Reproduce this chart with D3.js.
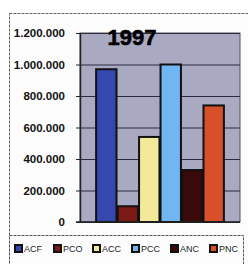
<!DOCTYPE html>
<html>
<head>
<meta charset="utf-8">
<script src="https://cdn.jsdelivr.net/npm/d3@7"></script>
<style>
body { margin: 0; background: #fff; }
svg { display: block; font-family: "Liberation Sans", Arial, sans-serif; }
</style>
</head>
<body>
<div id="content"></div>
<script>
// series names, values (1997) and colours
var categories = ["ACF", "PCO", "ACC", "PCC", "ANC", "PNC"];
var values = [970000, 100000, 540000, 1000000, 330000, 740000];
var colors = ["#3448b0", "#7c1a16", "#f2ea98", "#6fb6f2", "#3a0a0a", "#d8502a"];
var yTicks = [0, 200000, 400000, 600000, 800000, 1000000, 1200000];
var title = "1997";

var W = 248, H = 264;
var plot = {left: 80, right: 240, top: 33, bottom: 222};

var svg = d3.select("#content").append("svg")
	.attr("width", W).attr("height", H);

// outer frame
svg.append("rect")
	.attr("x", 9.5).attr("y", 13.5)
	.attr("width", 245).attr("height", 260)
	.attr("fill", "#fcfcfc")
	.attr("stroke", "#666").attr("stroke-width", 1)
	.attr("stroke-dasharray", "3,1");

var x = d3.scaleBand()
	.domain(categories)
	.range([plot.left, plot.right])
	.paddingInner(0.05)
	.paddingOuter(0.75);

var y = d3.scaleLinear()
	.domain([0, 1200000])
	.range([plot.bottom, plot.top]);

// plot area background
svg.append("rect")
	.attr("x", plot.left).attr("y", plot.top)
	.attr("width", plot.right - plot.left)
	.attr("height", plot.bottom - plot.top)
	.attr("fill", "#a9a9c2")
	.attr("stroke", "#555").attr("stroke-width", 1);

// y axis with gridlines
var fmt = function(d) { return d3.format(",")(d).replace(/,/g, "."); };
var yAxis = svg.append("g")
	.attr("transform", "translate(" + plot.left + ",0)")
	.call(d3.axisLeft(y).tickValues(yTicks).tickFormat(fmt)
		.tickSizeInner(-(plot.right - plot.left)).tickSizeOuter(0).tickPadding(15));
yAxis.select(".domain").attr("stroke", "#222").attr("stroke-width", 1.5);
yAxis.selectAll(".tick line").attr("stroke", "#2a2a40").attr("stroke-width", 1.2);
yAxis.selectAll(".tick text")
	.attr("fill", "#111")
	.style("font-size", "11.5px")
	.style("font-weight", "bold");
// small outer ticks
yAxis.selectAll(".tick").append("line")
	.attr("x1", -4).attr("x2", 0)
	.attr("stroke", "#222");

// bars
svg.append("g").selectAll("rect")
	.data(values)
	.enter().append("rect")
	.attr("x", function(d, i) { return x(categories[i]); })
	.attr("y", function(d) { return y(d); })
	.attr("width", x.bandwidth())
	.attr("height", function(d) { return y(0) - y(d); })
	.attr("fill", function(d, i) { return colors[i]; })
	.attr("stroke", "#111").attr("stroke-width", 2);

// baseline
svg.append("line")
	.attr("x1", plot.left - 4).attr("x2", plot.right)
	.attr("y1", y(0)).attr("y2", y(0))
	.attr("stroke", "#222").attr("stroke-width", 1.5);

// title
svg.append("text")
	.attr("x", 132).attr("y", 45)
	.attr("text-anchor", "middle")
	.style("font-size", "22px")
	.style("font-weight", "bold")
	.attr("fill", "#000")
	.attr("stroke", "#000").attr("stroke-width", 0.6)
	.text(title);

// legend box
svg.append("rect")
	.attr("x", 9.5).attr("y", 235.5)
	.attr("width", 234).attr("height", 40)
	.attr("fill", "#fcfcfc")
	.attr("stroke", "#555").attr("stroke-width", 1)
	.attr("stroke-dasharray", "3,1");

var legend = svg.append("g").selectAll("g")
	.data(categories)
	.enter().append("g")
	.attr("transform", function(d, i) { return "translate(" + (15 + i * 39) + ",252)"; });
legend.append("rect")
	.attr("x", 0).attr("y", -7)
	.attr("width", 7).attr("height", 7)
	.attr("fill", function(d, i) { return colors[i]; })
	.attr("stroke", "#111").attr("stroke-width", 2);
legend.append("text")
	.attr("x", 9).attr("y", 0)
	.style("font-size", "9px")
	.attr("fill", "#222")
	.text(function(d) { return d; });
</script>
</body>
</html>
